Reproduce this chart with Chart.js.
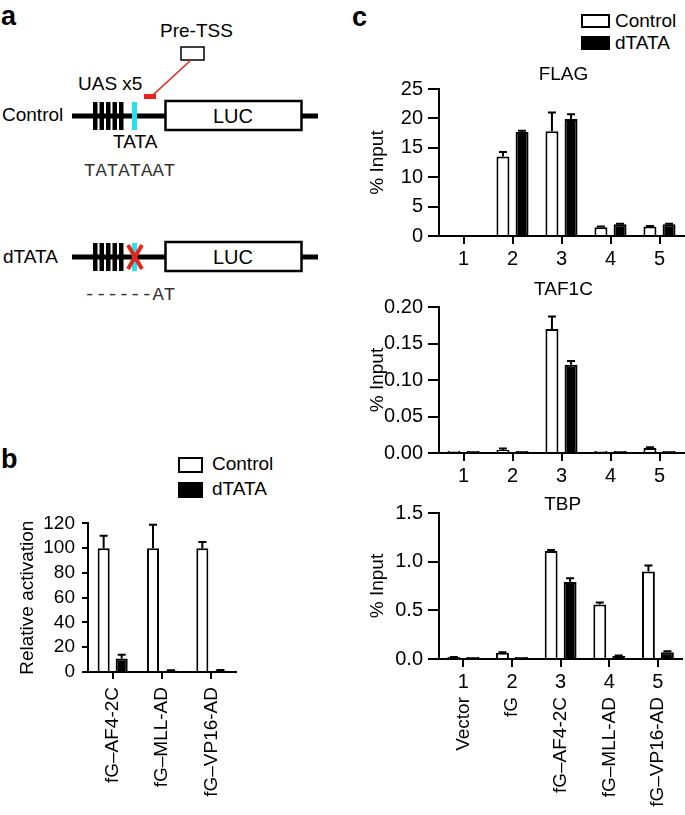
<!DOCTYPE html>
<html>
<head>
<meta charset="utf-8">
<title>TATA box dependence</title>
<script src="https://cdn.jsdelivr.net/npm/chart.js@4.4.1/dist/chart.umd.min.js"></script>
<style>
  body { margin: 0; background: #fff; width: 685px; height: 815px; position: relative; overflow: hidden;
         font-family: "Liberation Sans", Arial, Helvetica, sans-serif; color: #000; }
  canvas { position: absolute; }
  .panel { position: absolute; font-weight: bold; font-size: 27px; line-height: 1; }
  .box { position: absolute; box-sizing: border-box; border: 2px solid #000; }
  .txt { position: absolute; font-size: 19px; line-height: 20px; white-space: nowrap; }
  svg { position: absolute; left: 0; top: 0; }
</style>
</head>
<body>

<!-- panel a: construct diagram -->
<svg width="340" height="320" font-family="Liberation Sans, Arial, sans-serif">
  <text x="160" y="37" font-size="19">Pre-TSS</text>
  <rect x="181" y="47" width="23" height="13" fill="#fff" stroke="#000" stroke-width="1.5"/>
  <line x1="191" y1="60" x2="153" y2="95" stroke="#e3241f" stroke-width="1.6"/>
  <rect x="144" y="94" width="12" height="5" fill="#e3241f"/>
  <text x="78" y="90" font-size="19">UAS x5</text>

  <text x="2" y="121" font-size="19">Control</text>
  <line x1="72" y1="116" x2="318" y2="116" stroke="#000" stroke-width="5"/>
  <g fill="#000">
    <rect x="93" y="102" width="4.5" height="28"/>
    <rect x="99.5" y="102" width="4.5" height="28"/>
    <rect x="106" y="102" width="4.5" height="28"/>
    <rect x="112.5" y="102" width="4.5" height="28"/>
    <rect x="119" y="102" width="4.5" height="28"/>
  </g>
  <rect x="132" y="102" width="5" height="28" fill="#22e4ef"/>
  <rect x="165.5" y="101" width="136" height="29" fill="#fff" stroke="#000" stroke-width="2.5"/>
  <text x="233" y="123" font-size="20" text-anchor="middle">LUC</text>
  <text x="113" y="148" font-size="19">TATA</text>
  <text x="84" y="176" font-size="19" font-family="Liberation Mono, Courier New, monospace" fill="#333">TATATAAT</text>

  <text x="3" y="263" font-size="19">dTATA</text>
  <line x1="72" y1="257" x2="318" y2="257" stroke="#000" stroke-width="5"/>
  <g fill="#000">
    <rect x="93" y="243" width="4.5" height="28"/>
    <rect x="99.5" y="243" width="4.5" height="28"/>
    <rect x="106" y="243" width="4.5" height="28"/>
    <rect x="112.5" y="243" width="4.5" height="28"/>
    <rect x="119" y="243" width="4.5" height="28"/>
  </g>
  <rect x="132" y="243" width="5" height="28" fill="#22e4ef"/>
  <line x1="128" y1="245" x2="142" y2="269" stroke="#e3241f" stroke-width="4"/>
  <line x1="142" y1="245" x2="128" y2="269" stroke="#e3241f" stroke-width="4"/>
  <rect x="165.5" y="242" width="136" height="29" fill="#fff" stroke="#000" stroke-width="2.5"/>
  <text x="233" y="264" font-size="20" text-anchor="middle">LUC</text>
  <text x="84" y="300" font-size="19" font-family="Liberation Mono, Courier New, monospace" fill="#333">------AT</text>
</svg>

<div class="panel" style="left:1px;top:3px">a</div>
<div class="panel" style="left:1px;top:446px">b</div>
<div class="panel" style="left:352px;top:4px">c</div>

<!-- legends -->
<div class="box" style="left:178px;top:457px;width:25px;height:16px;background:#fff"></div>
<div class="txt" style="left:212px;top:454px">Control</div>
<div class="box" style="left:178px;top:482px;width:25px;height:16px;background:#000"></div>
<div class="txt" style="left:212px;top:479px">dTATA</div>

<div class="box" style="left:581px;top:14px;width:29px;height:14px;background:#fff"></div>
<div class="txt" style="left:615px;top:11px">Control</div>
<div class="box" style="left:581px;top:36px;width:29px;height:14px;background:#000"></div>
<div class="txt" style="left:615px;top:33px">dTATA</div>

<canvas id="chartB" width="250" height="310" style="left:0;top:505px"></canvas>
<canvas id="chartFlag" width="330" height="215" style="left:355px;top:60px"></canvas>
<canvas id="chartTaf" width="330" height="215" style="left:355px;top:280px"></canvas>
<canvas id="chartTbp" width="330" height="320" style="left:355px;top:495px"></canvas>

<script>
// ---- data ----
const bCategories = ['fG–AF4-2C', 'fG–MLL-AD', 'fG–VP16-AD'];
const bControl = [100, 100, 100];
const bControlErr = [10, 19, 5];
const bDtata = [11, 1.2, 1.3];
const bDtataErr = [3, 0.3, 0.4];

const cNumbers = ['1', '2', '3', '4', '5'];
const cNames = ['Vector', 'fG', 'fG–AF4-2C', 'fG–MLL-AD', 'fG–VP16-AD'];

const flagControl = [0, 13.5, 17.8, 1.5, 1.6];
const flagControlErr = [0, 0.8, 3.2, 0.1, 0.1];
const flagDtata = [0, 17.7, 19.9, 2.0, 2.0];
const flagDtataErr = [0, 0.2, 0.8, 0.1, 0.1];

const tafControl = [0.0005, 0.004, 0.170, 0.0008, 0.007];
const tafControlErr = [0, 0.002, 0.017, 0, 0.001];
const tafDtata = [0.0008, 0.0008, 0.121, 0.0008, 0.0005];
const tafDtataErr = [0, 0, 0.005, 0, 0];

const tbpControl = [0.015, 0.065, 1.11, 0.56, 0.90];
const tbpControlErr = [0.005, 0.005, 0.01, 0.02, 0.06];
const tbpDtata = [0.01, 0.01, 0.79, 0.03, 0.07];
const tbpDtataErr = [0, 0, 0.04, 0.005, 0.01];

const FONT = '"Liberation Sans", Arial, Helvetica, sans-serif';
Chart.defaults.color = '#000';
Chart.defaults.font.family = FONT;

// upper error bars with caps
const errorBars = {
  id: 'errorBars',
  afterDatasetsDraw(chart) {
    const { ctx } = chart;
    const y = chart.scales.y;
    ctx.save();
    ctx.strokeStyle = '#000';
    ctx.lineWidth = 2;
    chart.data.datasets.forEach((ds, di) => {
      if (!ds.errors) return;
      chart.getDatasetMeta(di).data.forEach((bar, i) => {
        const err = ds.errors[i];
        if (!err) return;
        const top = y.getPixelForValue(ds.data[i] + err);
        ctx.beginPath();
        ctx.moveTo(bar.x, bar.y);
        ctx.lineTo(bar.x, top);
        ctx.moveTo(bar.x - 4, top);
        ctx.lineTo(bar.x + 4, top);
        ctx.stroke();
      });
    });
    ctx.restore();
  }
};

// small title over the plot area
const panelTitle = {
  id: 'panelTitle',
  afterDraw(chart, args, opts) {
    if (!opts.text) return;
    const { ctx, chartArea } = chart;
    ctx.save();
    ctx.font = '19px ' + FONT;
    ctx.fillStyle = '#000';
    ctx.textAlign = 'center';
    ctx.textBaseline = 'middle';
    ctx.fillText(opts.text, (chartArea.left + chartArea.right) / 2 + 2, chartArea.top - opts.offset);
    ctx.restore();
  }
};

function makeChart(id, o) {
  const scales = {
    x: {
      weight: 0,
      afterFit: s => { s.height = o.xHeight; },
      grid: { display: true, drawOnChartArea: false, offset: false, tickLength: o.xTick, color: '#000', lineWidth: 2 },
      border: { display: true, color: '#000', width: 2 },
      ticks: {
        font: { size: o.xFont },
        padding: o.xPad,
        autoSkip: false,
        minRotation: o.xRot,
        maxRotation: o.xRot,
      },
    },
    y: {
      min: 0,
      max: o.yMax,
      afterFit: s => { s.width = o.yWidth; },
      grid: { display: true, drawOnChartArea: false, tickLength: o.yTick, color: '#000', lineWidth: 2 },
      border: { display: true, color: '#000', width: 2 },
      ticks: {
        stepSize: o.yStep,
        autoSkip: false,
        padding: o.yPad,
        font: { size: o.yFont },
        callback: v => Number(v).toFixed(o.dec),
      },
      title: {
        display: true,
        text: o.yTitle,
        font: { size: 19, lineHeight: 1.2 },
        padding: { top: o.titlePad, bottom: 0 },
      },
    },
  };
  if (o.names) {
    scales.x2 = {
      type: 'category',
      position: 'bottom',
      weight: 1,
      labels: o.names,
      afterFit: s => { s.height = o.x2Height; },
      grid: { display: false, drawTicks: false },
      border: { display: false },
      ticks: { font: { size: 19 }, padding: 4, autoSkip: false, minRotation: 90, maxRotation: 90 },
    };
  }
  const barStyle = {
    borderColor: '#000',
    borderWidth: 2,
    categoryPercentage: o.catPct,
    barPercentage: o.barPct,
    minBarLength: o.minBar || 0,
  };
  return new Chart(document.getElementById(id), {
    type: 'bar',
    data: {
      labels: o.labels,
      datasets: [
        { label: 'Control', data: o.control, errors: o.controlErr, backgroundColor: '#fff', ...barStyle },
        { label: 'dTATA', data: o.dtata, errors: o.dtataErr, backgroundColor: '#000', ...barStyle },
      ],
    },
    options: {
      responsive: false,
      animation: false,
      devicePixelRatio: 1,
      layout: { padding: { top: o.padTop, right: o.padRight, left: 0, bottom: 0 } },
      scales,
      plugins: {
        legend: { display: false },
        tooltip: { enabled: false },
        panelTitle: { text: o.title, offset: o.titleOffset },
      },
    },
    plugins: [errorBars, panelTitle],
  });
}

// panel b
makeChart('chartB', {
  labels: bCategories, control: bControl, controlErr: bControlErr, dtata: bDtata, dtataErr: bDtataErr,
  yMax: 120, yStep: 20, dec: 0, yTitle: 'Relative activation', titlePad: 16,
  yWidth: 88, yTick: 6, yPad: 7, yFont: 19,
  xHeight: 143, xTick: 7, xPad: 8, xFont: 19, xRot: 90,
  padTop: 14, padRight: 14, catPct: 0.73, barPct: 0.67,
});

// panel c
const cCommon = {
  labels: cNumbers, yTitle: '% Input', titlePad: 11,
  yWidth: 84, yTick: 11, yPad: 5, yFont: 20,
  xTick: 8, xPad: 3, xFont: 20, xRot: 0,
  padRight: 1, catPct: 0.78, barPct: 0.68,
};

makeChart('chartFlag', {
  ...cCommon,
  control: flagControl, controlErr: flagControlErr, dtata: flagDtata, dtataErr: flagDtataErr,
  yMax: 25, yStep: 5, dec: 0, title: 'FLAG', titleOffset: 14,
  padTop: 29, xHeight: 39,
});

makeChart('chartTaf', {
  ...cCommon,
  control: tafControl, controlErr: tafControlErr, dtata: tafDtata, dtataErr: tafDtataErr,
  yMax: 0.2, yStep: 0.05, dec: 2, title: 'TAF1C', titleOffset: 17, minBar: 2,
  padTop: 27, xHeight: 42,
});

makeChart('chartTbp', {
  ...cCommon,
  control: tbpControl, controlErr: tbpControlErr, dtata: tbpDtata, dtataErr: tbpDtataErr,
  yMax: 1.5, yStep: 0.5, dec: 1, title: 'TBP', titleOffset: 8, minBar: 2,
  padTop: 18, xHeight: 34, names: cNames, x2Height: 122,
});
</script>
</body>
</html>
